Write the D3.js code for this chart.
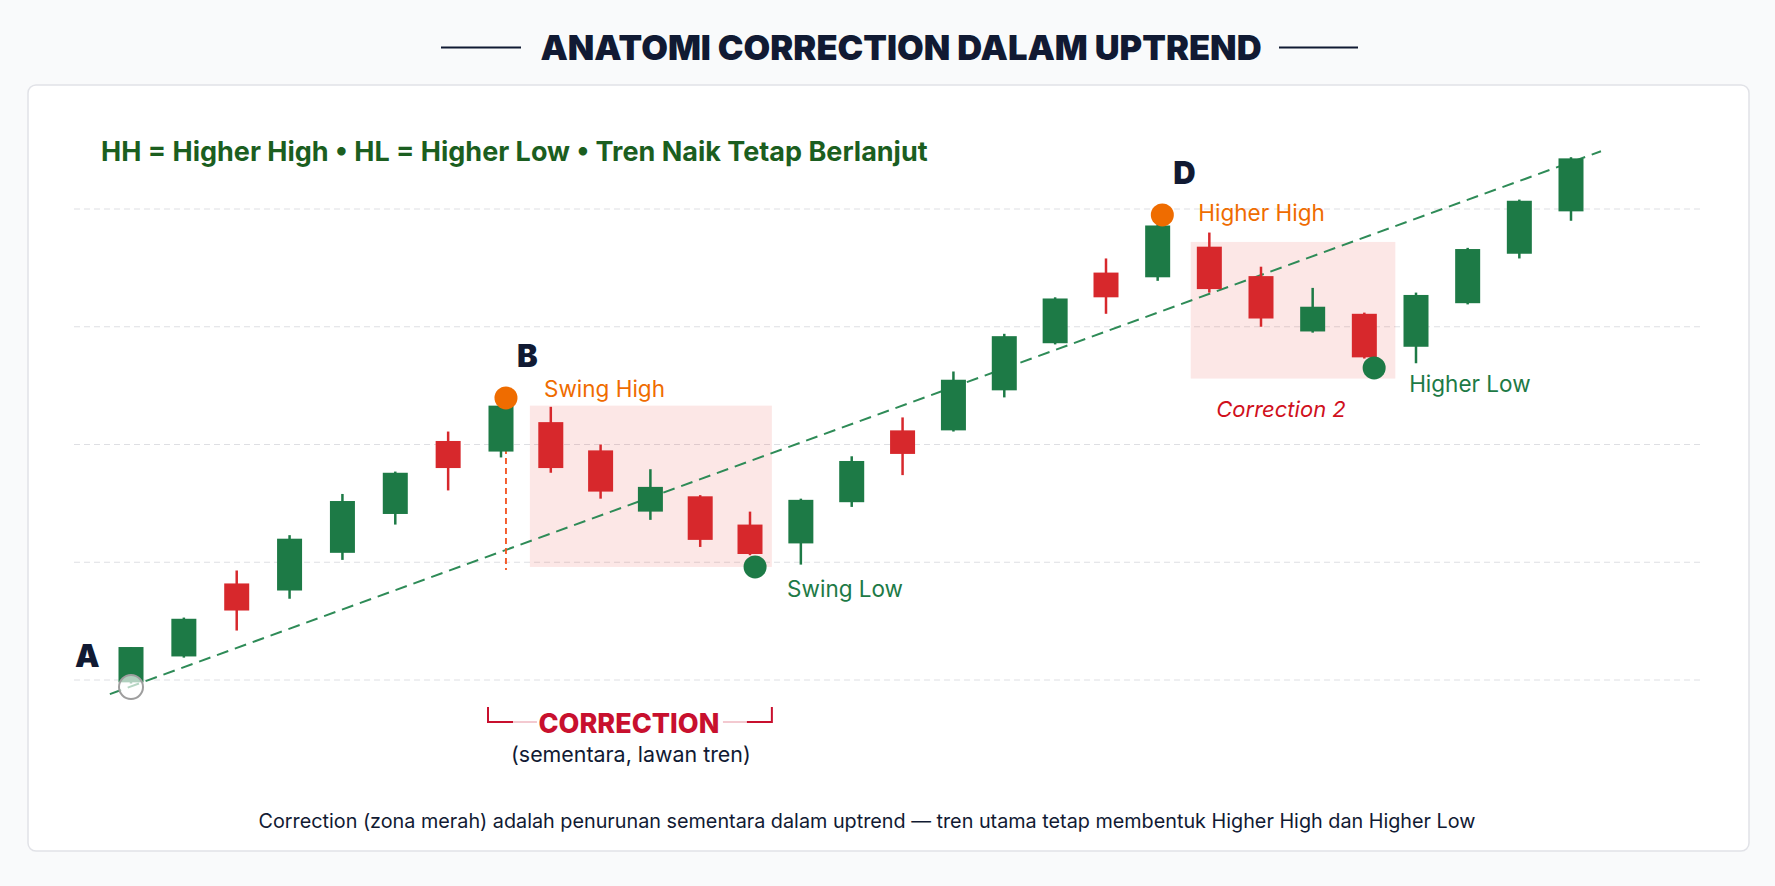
<!DOCTYPE html>
<html lang="id">
<head>
  <meta charset="UTF-8">
  <title>Anatomi Correction</title>
</head>
<body>
<style>
  * { padding: 0; margin: 0; }
  body { background: #f9fafb; }
  #app { width: 1775px; height: 886px; }
  text { font-family: Inter, "Liberation Sans", sans-serif; }
</style>

<div id="app"></div>

<script src="https://cdn.jsdelivr.net/npm/d3@7/dist/d3.min.js"></script>
<script>
  // candle data (index 0..28), prices
  let opens  = [99.8, 102.0, 108.2, 107.6, 110.8, 114.1, 120.3, 119.4, 121.9, 119.5, 114.3, 115.6, 113.2, 111.6, 115.1,
                121.2, 121.2, 124.6, 128.6, 134.6, 134.2, 136.8, 134.3, 129.6, 131.1, 128.3, 132.0, 136.2, 139.8];
  let closes = [102.8, 105.2, 105.9, 112.0, 115.2, 117.6, 118.0, 123.3, 118.0, 116.0, 116.4, 111.9, 110.7, 115.3, 118.6,
                119.2, 125.5, 129.2, 132.4, 132.5, 138.6, 133.2, 130.7, 131.7, 127.4, 132.7, 136.6, 140.7, 144.3];
  let highs  = [102.8, 105.3, 109.3, 112.3, 115.8, 117.7, 121.1, 123.4, 123.2, 120.0, 117.9, 115.7, 114.3, 115.4, 119.0,
                122.3, 126.2, 129.4, 132.5, 135.8, 138.7, 138.0, 135.1, 133.3, 131.2, 132.9, 136.7, 140.8, 144.4];
  let lows   = [99.7, 101.9, 104.2, 106.9, 110.2, 113.2, 116.1, 118.9, 117.6, 115.4, 113.6, 111.3, 110.6, 109.8, 114.7,
                117.4, 121.1, 124.0, 128.5, 131.1, 133.9, 132.9, 130.0, 129.5, 127.3, 126.9, 131.9, 135.8, 139.0];

  let gridTicks = [100, 110, 120, 130, 140];

  // trend line endpoints (index, price)
  let trendIdx = [-0.4, 28.58];
  let trendPrice = [98.8, 144.9];

  // correction zones: index range, price range
  let zoneStart = [7.58, 20.64];
  let zoneEnd = [12.43, 24.6];
  let zoneTop = [123.3, 137.2];
  let zoneBottom = [109.6, 125.6];

  // swing points
  let pointIdx = [0, 7.1, 12.1, 20.09, 24.19];
  let pointPrice = [99.4, 123.95, 109.6, 139.5, 126.5];
  let pointKind = ["start", "high", "low", "high", "low"];
  let pointLetter = ["A", "B", "", "D", ""];
  let pointLabel = ["", "Swing High", "Swing Low", "Higher High", "Higher Low"];

  let title = "ANATOMI CORRECTION DALAM UPTREND";
  let subtitle = "HH = Higher High \u2022 HL = Higher Low \u2022 Tren Naik Tetap Berlanjut";
  let footer = "Correction (zona merah) adalah penurunan sementara dalam uptrend \u2014 tren utama tetap membentuk Higher High dan Higher Low";

  let $width = 1775, $height = 886;
  let GREEN = "#1d7a46", RED = "#d7282c", ORANGE = "#ef6c00", NAVY = "#111a33";

  let svg = d3.select("#app").append("svg").attr("width", $width).attr("height", $height);

  // title
  svg.append("text").text(title)
    .attr("x", 901).attr("y", 60).attr("text-anchor", "middle")
    .attr("font-size", "34.5px").attr("font-weight", 900).attr("fill", NAVY);
  svg.append("line").attr("x1", 441).attr("x2", 521).attr("y1", 47.5).attr("y2", 47.5)
    .attr("stroke", NAVY).attr("stroke-width", 2);
  svg.append("line").attr("x1", 1279).attr("x2", 1358).attr("y1", 47.5).attr("y2", 47.5)
    .attr("stroke", NAVY).attr("stroke-width", 2);

  // panel
  svg.append("rect").attr("x", 28).attr("y", 85).attr("width", 1721).attr("height", 766)
    .attr("rx", 8).attr("fill", "#fff").attr("stroke", "#e1e2e7").attr("stroke-width", 1.5);

  svg.append("text").text(subtitle)
    .attr("x", 101).attr("y", 161)
    .attr("font-family", "'Liberation Sans', Arial, sans-serif")
    .attr("font-size", "27px").attr("font-weight", "bold").attr("fill", "#1b5e20");

  let x = d3.scaleLinear().domain([0, 7, 12, 19, 28]).range([131, 501, 750, 1106, 1571]);
  let y = d3.scaleLinear().domain([100, 140]).range([680, 209]);

  // grid
  svg.selectAll(".grid").data(gridTicks).enter().append("line")
    .attr("class", "grid")
    .attr("x1", 74).attr("x2", 1701)
    .attr("y1", d => y(d)).attr("y2", d => y(d))
    .attr("stroke", "#dedfe3").attr("stroke-width", 1).attr("stroke-dasharray", "6,4");

  // zones
  let zones = zoneStart.map((s, i) => ({s: s, e: zoneEnd[i], t: zoneTop[i], b: zoneBottom[i]}));
  svg.selectAll(".zone").data(zones).enter().append("rect")
    .attr("class", "zone")
    .attr("x", d => x(d.s)).attr("width", d => x(d.e) - x(d.s))
    .attr("y", d => y(d.t)).attr("height", d => y(d.b) - y(d.t))
    .attr("fill", "#e53935").attr("fill-opacity", 0.12);

  // trend line
  svg.append("line")
    .attr("x1", x(trendIdx[0])).attr("y1", y(trendPrice[0]))
    .attr("x2", x(trendIdx[1])).attr("y2", y(trendPrice[1]))
    .attr("stroke", "#2e8b57").attr("stroke-width", 2).attr("stroke-dasharray", "12,7");

  // vertical marker below B
  svg.append("line")
    .attr("x1", x(pointIdx[1])).attr("x2", x(pointIdx[1]))
    .attr("y1", y(pointPrice[1])).attr("y2", y(zoneBottom[0]) + 3)
    .attr("stroke", "#f4511e").attr("stroke-width", 1.8).attr("stroke-dasharray", "6,4");

  // candles
  let candles = opens.map((o, i) => ({i: i, o: o, c: closes[i], h: highs[i], l: lows[i]}));
  let bodyW = 25;
  let g = svg.selectAll(".candle").data(candles).enter().append("g").attr("class", "candle");
  g.append("line")
    .attr("x1", d => x(d.i)).attr("x2", d => x(d.i))
    .attr("y1", d => y(d.h)).attr("y2", d => y(d.l))
    .attr("stroke", d => d.c >= d.o ? GREEN : RED).attr("stroke-width", 2.5);
  g.append("rect")
    .attr("x", d => x(d.i) - bodyW / 2).attr("width", bodyW)
    .attr("y", d => y(Math.max(d.o, d.c)))
    .attr("height", d => Math.abs(y(d.o) - y(d.c)))
    .attr("fill", d => d.c >= d.o ? GREEN : RED);

  // swing points
  let points = pointIdx.map((p, i) => ({i: p, p: pointPrice[i], kind: pointKind[i], letter: pointLetter[i], label: pointLabel[i]}));
  svg.selectAll(".pt").data(points).enter().append("circle")
    .attr("class", "pt")
    .attr("cx", d => x(d.i)).attr("cy", d => y(d.p))
    .attr("r", d => d.kind == "start" ? 12 : 11.5)
    .attr("fill", d => d.kind == "start" ? "rgba(255,255,255,0.65)" : d.kind == "high" ? ORANGE : GREEN)
    .attr("stroke", d => d.kind == "start" ? "#9e9e9e" : "none")
    .attr("stroke-width", 2);

  // letters
  svg.selectAll(".letter").data(points.filter(d => d.letter)).enter().append("text")
    .attr("class", "letter")
    .text(d => d.letter)
    .attr("x", d => d.kind == "start" ? x(d.i) - 56 : x(d.i) + 11)
    .attr("y", d => d.kind == "start" ? y(d.p) - 20 : y(d.p) - 31)
    .attr("font-size", "31px").attr("font-weight", 900).attr("fill", NAVY);

  // point labels, offset from their marker
  let labelOffset = {"Swing High": [38, -1], "Higher High": [36, 6], "Swing Low": [32, 30], "Higher Low": [35, 24]};
  svg.selectAll(".plabel").data(points.filter(d => d.label)).enter().append("text")
    .attr("class", "plabel")
    .text(d => d.label)
    .attr("x", d => x(d.i) + labelOffset[d.label][0])
    .attr("y", d => y(d.p) + labelOffset[d.label][1])
    .attr("font-size", "22.5px")
    .attr("fill", d => d.kind == "high" ? ORANGE : GREEN);

  // correction 2 label
  svg.append("text").text("Correction 2")
    .attr("x", (x(zoneStart[1]) + x(zoneEnd[1])) / 2 - 12).attr("y", y(zoneBottom[1]) + 38)
    .attr("text-anchor", "middle").attr("font-style", "italic")
    .attr("font-size", "22px").attr("fill", "#d0101c");

  // correction bracket
  let bx0 = x(7) - 13, bx1 = x(zoneEnd[0]), bTop = 707, bY = 722;
  let br = svg.append("g");
  br.append("path").attr("d", `M${bx0},${bTop}V${bY}H${bx0 + 25}`)
    .attr("fill", "none").attr("stroke", "#c8102e").attr("stroke-width", 2);
  br.append("path").attr("d", `M${bx1},${bTop}V${bY}H${bx1 - 25}`)
    .attr("fill", "none").attr("stroke", "#c8102e").attr("stroke-width", 2);
  br.append("line").attr("x1", bx0 + 25).attr("x2", bx1 - 25).attr("y1", bY).attr("y2", bY)
    .attr("stroke", "#c8102e").attr("stroke-opacity", 0.3).attr("stroke-width", 1.5);
  let cmid = (bx0 + bx1) / 2;
  br.append("rect").attr("x", cmid - 93).attr("y", bY - 14).attr("width", 186).attr("height", 28).attr("fill", "#fff");
  br.append("text").text("CORRECTION")
    .attr("x", cmid - 1).attr("y", 733).attr("text-anchor", "middle")
    .attr("font-size", "27px").attr("font-weight", 800).attr("fill", "#c8102e");
  br.append("text").text("(sementara, lawan tren)")
    .attr("x", cmid + 1).attr("y", 762).attr("text-anchor", "middle")
    .attr("font-size", "21.4px").attr("fill", NAVY);

  // footer
  svg.append("text").text(footer)
    .attr("x", 867).attr("y", 828).attr("text-anchor", "middle")
    .attr("font-size", "19.8px").attr("fill", NAVY);
</script>
</body>
</html>
